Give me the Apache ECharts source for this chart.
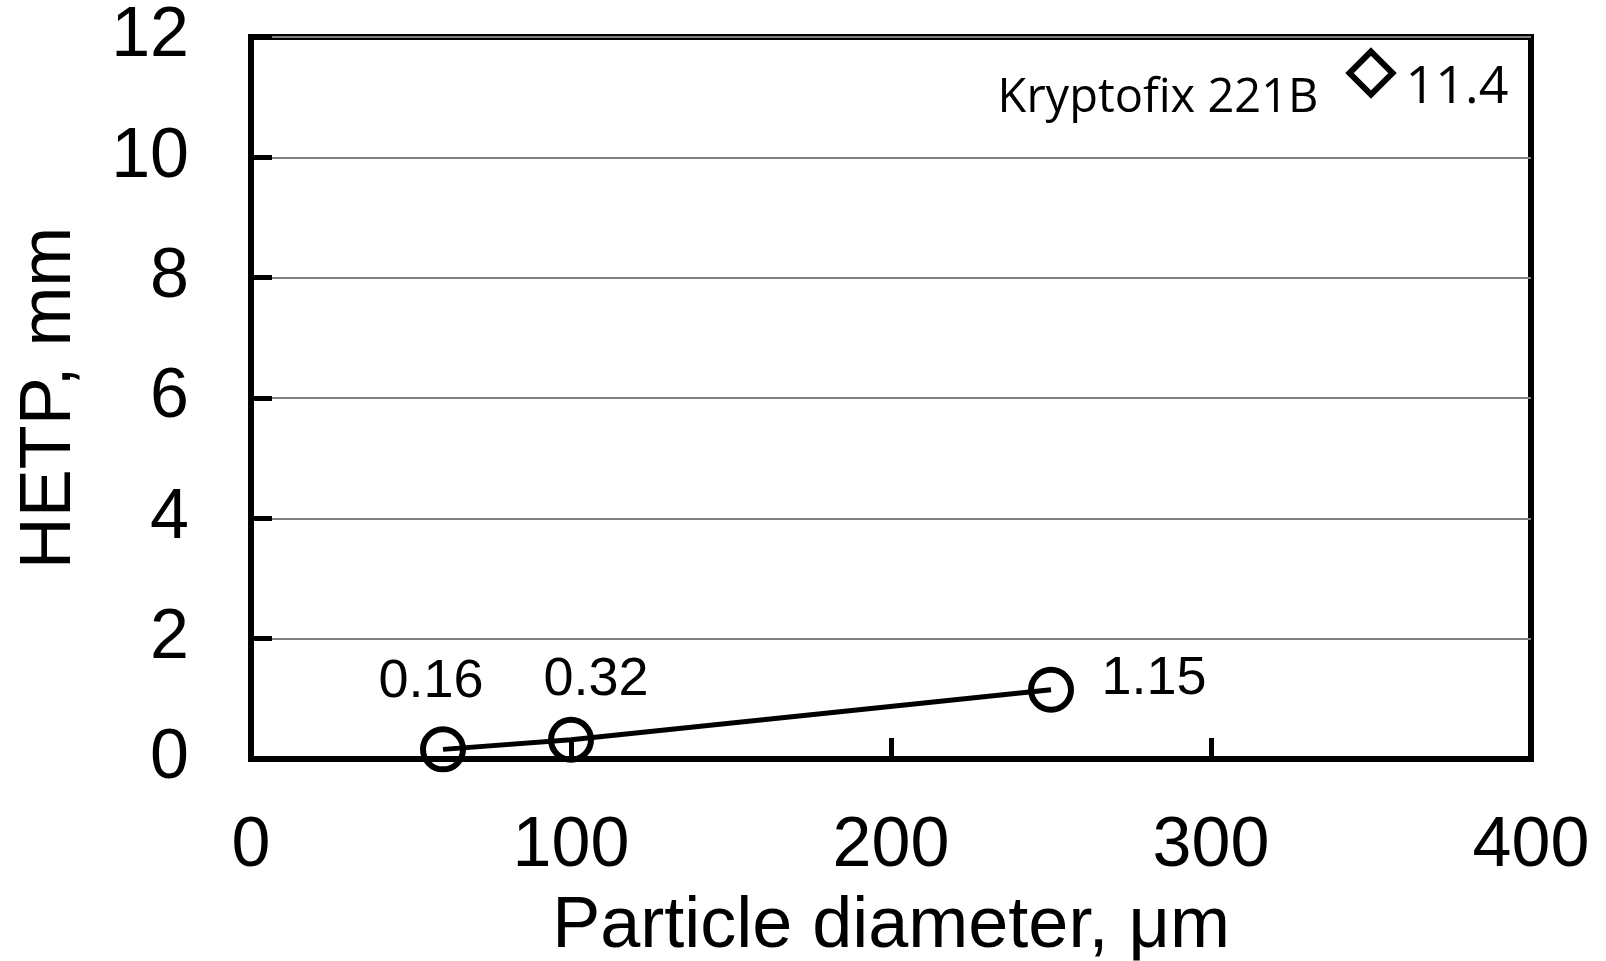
<!DOCTYPE html>
<html>
<head>
<meta charset="utf-8">
<script src="https://cdn.jsdelivr.net/npm/echarts@6/dist/echarts.min.js"></script>
<style>
html,body{margin:0;padding:0;background:#fff;}
#chart{width:1606px;height:961px;}
</style>
</head>
<body>
<div id="chart"></div>
<script>
const particleDiameters = [60, 100, 250];
const hetpValues = [0.16, 0.32, 1.15];
const kryptofixDiameter = [350];
const kryptofixHetp = [11.4];
const kryptofixName = 'Kryptofix 221B';
const xTicks = [0, 100, 200, 300, 400];
const yTicks = [0, 2, 4, 6, 8, 10, 12];
const xTitle = 'Particle diameter, μm';
const yTitle = 'HETP, mm';

const lineData = particleDiameters.map((d, i) => [d, hetpValues[i]]);
const kData = kryptofixDiameter.map((d, i) => [d, kryptofixHetp[i]]);
const labelOffsets = [[-12, -67], [25, -60], [103, -11]];

const chart = echarts.init(document.getElementById('chart'), null, {renderer: 'canvas'});
chart.setOption({
  animation: false,
  backgroundColor: '#fff',
  grid: {left: 251, right: 75, top: 37, bottom: 202, containLabel: false, outerBoundsMode: 'none',
    show: true, borderColor: '#000', borderWidth: 6, backgroundColor: 'transparent'},
  xAxis: {
    type: 'value', min: xTicks[0], max: xTicks[xTicks.length - 1], interval: 100,
    name: xTitle, nameLocation: 'middle', nameGap: 132,
    nameTextStyle: {fontFamily: 'Liberation Sans', fontSize: 72, color: '#000'},
    axisLine: {show: true, lineStyle: {color: '#000', width: 6}},
    axisTick: {show: true, inside: true, length: 21, lineStyle: {color: '#000', width: 5}},
    axisLabel: {fontFamily: 'Liberation Sans', fontSize: 70, color: '#000', margin: 53},
    splitLine: {show: false}
  },
  yAxis: {
    type: 'value', min: yTicks[0], max: yTicks[yTicks.length - 1], interval: 2,
    name: yTitle, nameLocation: 'middle', nameGap: 165, nameRotate: 90,
    nameTextStyle: {fontFamily: 'Liberation Sans', fontSize: 72, color: '#000'},
    axisLine: {show: true, lineStyle: {color: '#000', width: 6}},
    axisTick: {show: true, inside: true, length: 21, lineStyle: {color: '#000', width: 5}},
    axisLabel: {fontFamily: 'Liberation Sans', fontSize: 70, color: '#000', margin: 62, padding: [9, 0, 0, 0]},
    splitLine: {show: true, lineStyle: {color: '#808080', width: 2}}
  },
  series: [
    {
      type: 'line', data: lineData.map((p, i) => ({
        value: p,
        label: {position: 'inside', offset: labelOffsets[i]}
      })),
      symbol: 'circle', symbolSize: 40, clip: false, z: 5,
      lineStyle: {color: '#000', width: 5},
      itemStyle: {color: 'rgba(0,0,0,0)', borderColor: '#000', borderWidth: 6, opacity: 1},
      label: {show: true, fontFamily: 'Liberation Sans', fontSize: 54, color: '#000',
        formatter: p => String(p.value[1])}
    },
    {
      type: 'scatter', data: kData, symbol: 'diamond', symbolSize: 43, clip: false, z: 5,
      itemStyle: {color: 'rgba(0,0,0,0)', borderColor: '#000', borderWidth: 6, opacity: 1},
      label: {show: true, position: 'right', distance: 10, offset: [0, 15], fontFamily: 'Open Sans', fontSize: 52, color: '#000',
        formatter: p => String(p.value[1])}
    },
    {
      type: 'scatter', data: kData, symbol: 'circle', symbolSize: 2, clip: false, z: 4, silent: true,
      itemStyle: {color: 'rgba(0,0,0,0)', opacity: 1},
      label: {show: true, position: 'inside', offset: [-213, 26], fontFamily: 'Open Sans', fontSize: 47, color: '#000',
        formatter: () => kryptofixName}
    }
  ]
});
</script>
</body>
</html>
